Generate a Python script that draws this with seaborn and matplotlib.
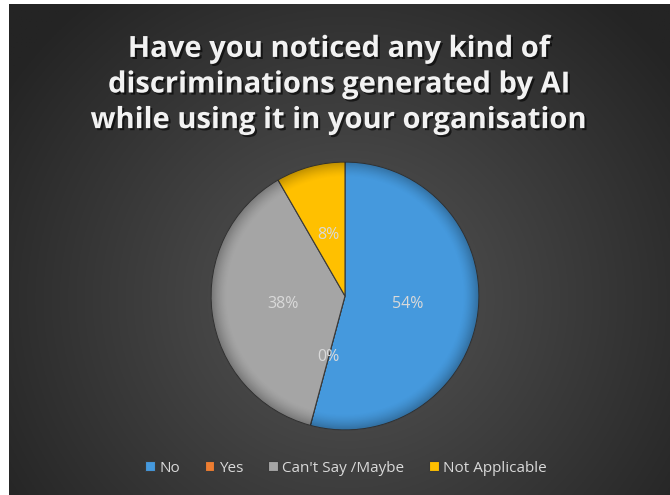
import numpy as np
import matplotlib
matplotlib.use("Agg")
import matplotlib.pyplot as plt
import matplotlib.patheffects as pe
from matplotlib.patches import Circle
import seaborn as sns

# ---- data ----
categories = ["No", "Yes", "Can't Say /Maybe", "Not Applicable"]
counts = [13, 0, 9, 2]
colors = ["#4599dd", "#ed7d31", "#a5a5a5", "#ffc000"]
title = "Have you noticed any kind of\ndiscriminations generated by AI\nwhile using it in your organisation"

sns.set_theme(style="white")
plt.rcParams['font.family'] = ['Open Sans', 'DejaVu Sans']

W, H = 670, 495
fig = plt.figure(figsize=(W / 100, H / 100), dpi=100)
fig.patch.set_facecolor("white")

# background with radial gradient
bg = fig.add_axes([9 / W, 0, (W - 9) / W, (H - 4) / H])
bg.set_axis_off()
ny, nx = 300, 400
yy, xx = np.mgrid[0:ny, 0:nx]
cx, cy = nx * 0.51, ny * 0.60
d = np.sqrt(((xx - cx) / (nx * 0.62)) ** 2 + ((yy - cy) / (ny * 0.80)) ** 2)
d = np.clip(d, 0, 1)
c0 = np.array([0x56, 0x56, 0x56]) / 255
c1 = np.array([0x24, 0x24, 0x24]) / 255
img = c0[None, None, :] * (1 - d[..., None]) + c1[None, None, :] * d[..., None]
bg.imshow(img, extent=[0, 1, 0, 1], aspect="auto", origin="upper")
bg.set_xlim(0, 1)
bg.set_ylim(0, 1)

# title
fig.text(0.5 + 4 / W, (H - 85) / H, title, ha="center", va="center",
         fontsize=21, fontweight="bold", color="#f2f2f2", linespacing=1.3,
         path_effects=[pe.withSimplePatchShadow(offset=(1.5, -1.5), shadow_rgbFace="black", alpha=0.6)])

# pie
pcx, pcy, r = 345, 296, 134
ax = fig.add_axes([(pcx - r) / W, (H - pcy - r) / H, 2 * r / W, 2 * r / H])
wedges, texts, autotexts = ax.pie(
    counts, colors=colors, startangle=90, counterclock=False,
    autopct=lambda p: f"{p:.0f}%", pctdistance=0.47,
    wedgeprops=dict(edgecolor="#3a3a3a", linewidth=0.8),
    textprops=dict(color="#d9d9d9", fontsize=11.5))
ax.set_xlim(-1.0, 1.0)
ax.set_ylim(-1.0, 1.0)
ax.set_aspect("equal")
ax.set_axis_off()

# subtle rim shading
g = np.linspace(-1, 1, 300)
GX, GY = np.meshgrid(g, g)
R = np.sqrt(GX ** 2 + GY ** 2)
alpha = np.clip((R - 0.88) / 0.12, 0, 1) ** 1.5 * 0.28
shade = np.zeros((300, 300, 4))
shade[..., 3] = alpha
im = ax.imshow(shade, extent=[-1, 1, -1, 1], origin="lower", zorder=3)
im.set_clip_path(Circle((0, 0), 1.0, transform=ax.transData))
for t in autotexts:
    t.set_zorder(5)

# legend
fig.legend(wedges, categories, loc="center", bbox_to_anchor=(0.5 + 11 / W, (H - 468) / H),
           ncol=4, frameon=False, handlelength=0.65, handleheight=0.65,
           handletextpad=0.3, columnspacing=1.6, fontsize=11,
           labelcolor="#d9d9d9")

fig.savefig("out.png", dpi=100, facecolor=fig.get_facecolor())
